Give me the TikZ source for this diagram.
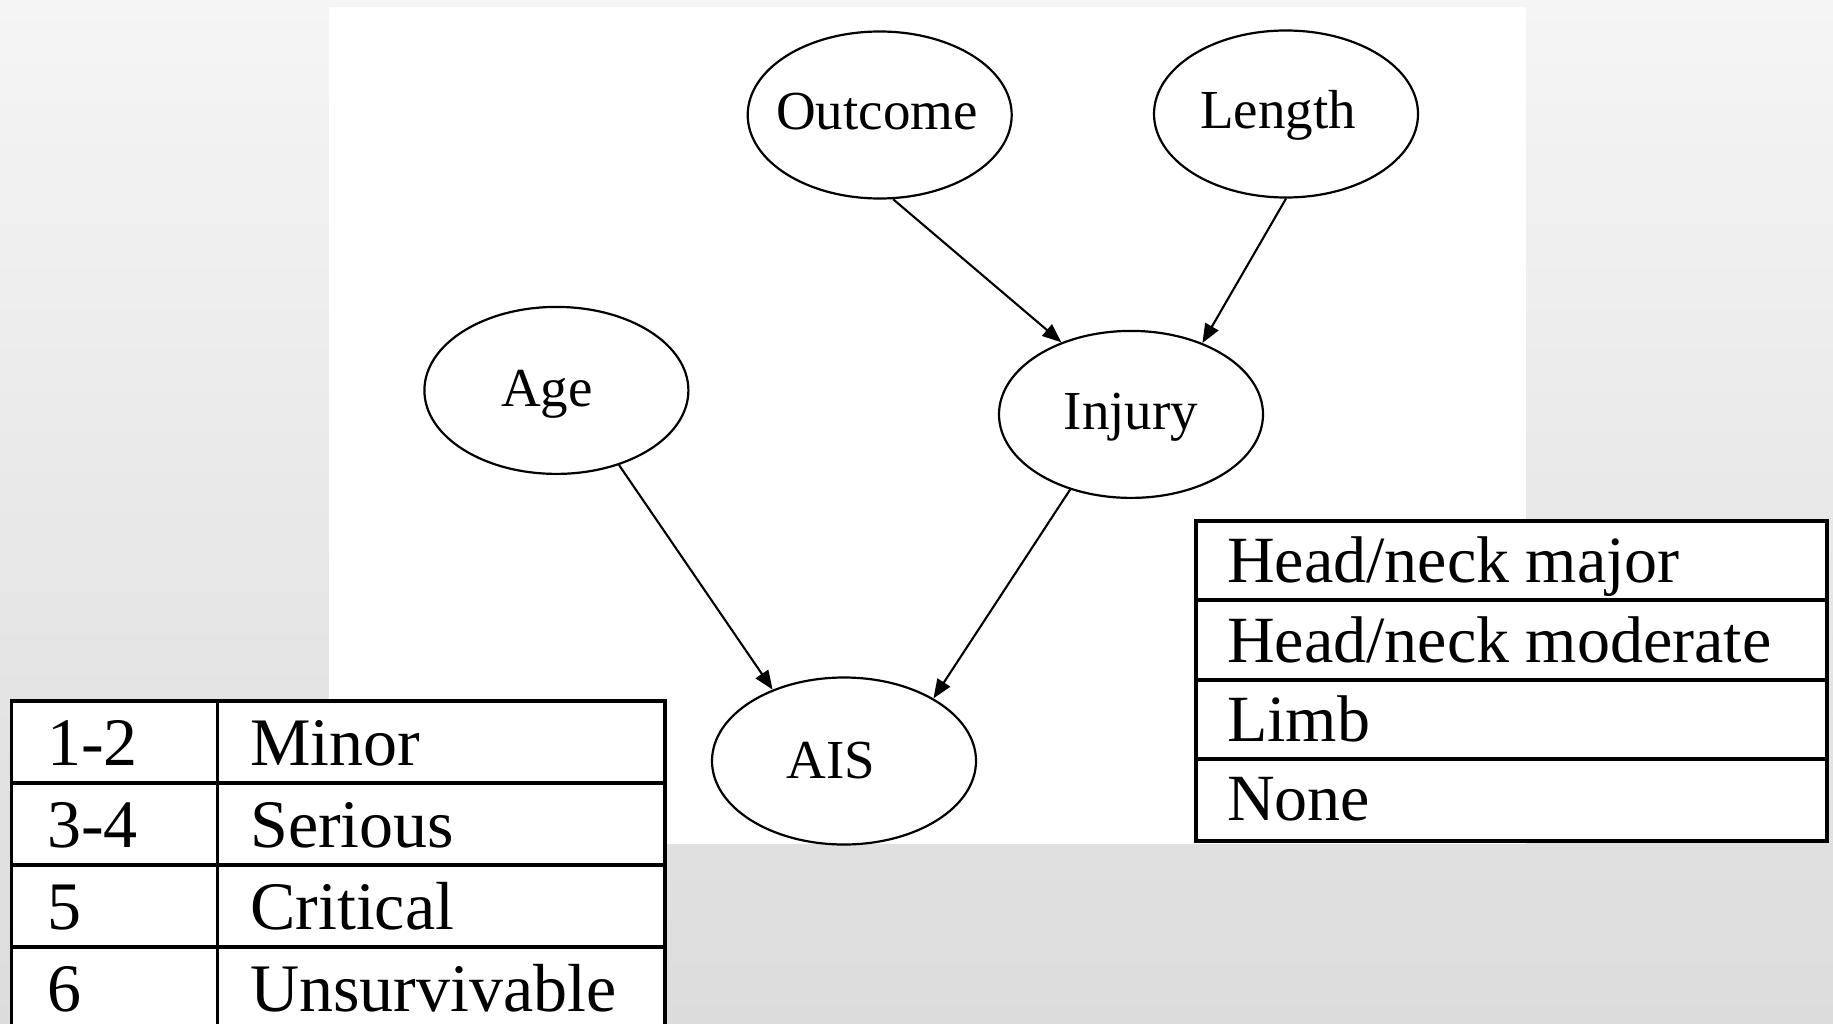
\documentclass[tikz,border=0pt]{standalone}
\usepackage{fontspec}
\setmainfont{Liberation Serif}
\usetikzlibrary{arrows.meta,shapes.geometric}
\begin{document}
\begin{tikzpicture}[x=1pt,y=-1pt,
  ell/.style={draw,ellipse,line width=2.2pt,minimum width=264pt,minimum height=167pt,inner sep=0pt,fill=white},
  lbl/.style={anchor=base,inner sep=0pt,font=\fontsize{55}{60}\selectfont},
  arr/.style={line width=2.1pt,-{Triangle[length=19pt,width=15pt]}},
  tline/.style={line width=3.3pt},
  ltxt/.style={anchor=base west,inner sep=0pt,font=\fontsize{68}{72}\selectfont},
  rtxt/.style={anchor=base west,inner sep=0pt,font=\fontsize{66}{70}\selectfont}]
\useasboundingbox (0,0) rectangle (1833,1024);
\shade[top color={rgb,255:red,245;green,245;blue,245},bottom color={rgb,255:red,220;green,220;blue,220}] (0,0) rectangle (1833,1024);
\fill[white] (328.6,7) rectangle (1525.6,844);

% ellipses
\node[ell] (out) at (879.7,115) {};
\node[ell] (len) at (1286,114) {};
\node[ell] (age) at (556.4,390.4) {};
\node[ell] (inj) at (1131,414.4) {};
\node[ell] (ais) at (844,761) {};

\node[lbl] (outT) at (877,130) {Outcome};
\node[lbl] (lenT) at (1278,129) {Length};
\node[lbl] (ageT) at (547,406) {Age};
\node[lbl] (injT) at (1131,429) {Injury};
\node[lbl] (aisT) at (831,778) {AIS};

% arrows
\draw[arr] (out.-81) -- (inj.134.4);
\draw[arr] (len.-90) -- (inj.45);
\draw[arr] (age.-50.5) -- (ais.135.6);
\draw[arr] (inj.-129.6) -- (ais.35.2);

% left table
\filldraw[fill=white,tline] (11.7,701) rectangle (665,1040);
\draw[tline] (217.4,701) -- (217.4,1040);
\draw[tline] (11.7,783) -- (665,783);
\draw[tline] (11.7,865) -- (665,865);
\draw[tline] (11.7,947) -- (665,947);
\node[ltxt] (l1a) at (46.8,765) {1-2};
\node[ltxt] (l1b) at (250,765) {Minor};
\node[ltxt] (l2a) at (46.8,847) {3-4};
\node[ltxt] (l2b) at (250,847) {Serious};
\node[ltxt] (l3a) at (46.8,929) {5};
\node[ltxt] (l3b) at (250,929) {Critical};
\node[ltxt] (l4a) at (46.8,1011) {6};
\node[ltxt] (l4b) at (250,1011) {Unsurvivable};

% right table
\filldraw[fill=white,tline] (1196,521) rectangle (1827,841);
\draw[tline] (1196,600) -- (1827,600);
\draw[tline] (1196,680) -- (1827,680);
\draw[tline] (1196,759) -- (1827,759);
\node[rtxt] (r1) at (1227,582) {Head/neck major};
\node[rtxt] (r2) at (1227,662) {Head/neck moderate};
\node[rtxt] (r3) at (1227,741) {Limb};
\node[rtxt] (r4) at (1227,820) {None};
\end{tikzpicture}
\end{document}
